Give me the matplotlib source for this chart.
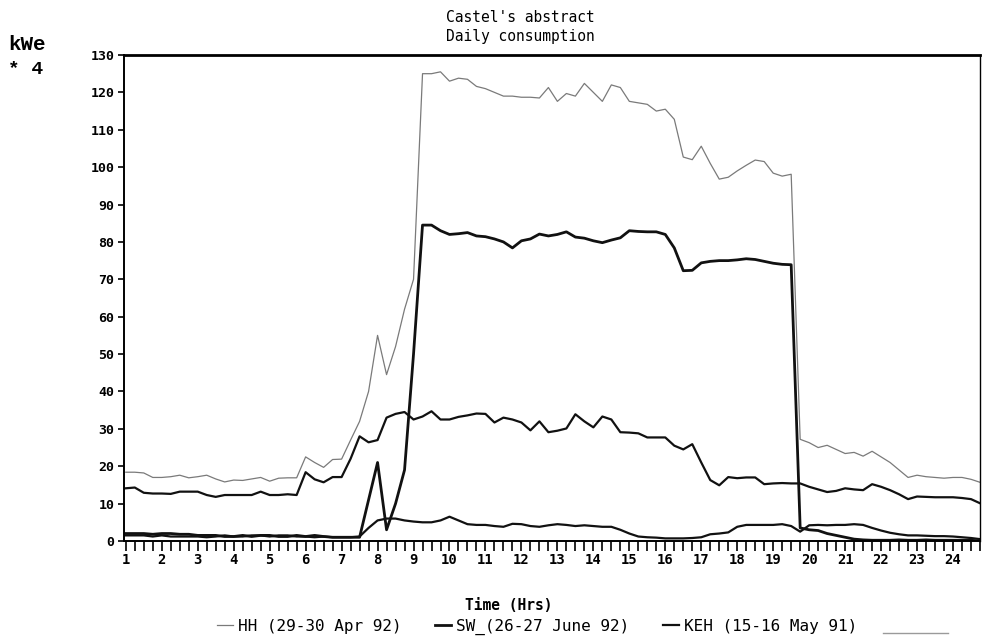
import numpy as np
import matplotlib
matplotlib.use("Agg")
import matplotlib.pyplot as plt
from matplotlib.lines import Line2D

# ---- data (quarter-hour samples, hours 1.00 .. 24.75) ----
hours = np.arange(1.0, 25.0, 0.25)

hh = [18.4, 18.4, 18.2, 17.0,  17.0, 17.2, 17.6, 16.9,  17.2, 17.6, 16.6, 15.8,
      16.3, 16.2, 16.6, 17.0,  16.0, 16.8, 16.9, 16.9,  22.5, 21.0, 19.7, 21.8,
      21.9, 27.0, 32.0, 40.0,  55.0, 44.5, 52.0, 62.0,  70.0, 125.0, 125.0, 125.5,
      123.0, 123.8, 123.5, 121.6,  121.0, 120.0, 119.0, 119.0,  118.7, 118.7, 118.5, 121.3,
      117.6, 119.7, 119.0, 122.4,  120.0, 117.6, 122.0, 121.3,  117.6, 117.2, 116.8, 115.0,
      115.5, 112.8, 102.7, 102.0,  105.6, 101.0, 96.8, 97.3,  99.0, 100.5, 101.9, 101.5,
      98.4, 97.6, 98.1, 27.2,  26.3, 25.0, 25.6, 24.5,  23.4, 23.7, 22.7, 24.0,
      22.5, 21.0, 19.0, 17.0,  17.6, 17.2, 17.0, 16.8,  17.0, 17.0, 16.5, 15.7]

sw = [2.0, 2.0, 2.0, 1.8,  2.0, 2.0, 1.8, 1.8,  1.5, 1.5, 1.5, 1.2,
      1.2, 1.5, 1.2, 1.5,  1.5, 1.2, 1.2, 1.5,  1.2, 1.5, 1.2, 1.0,
      1.0, 1.0, 1.0, 11.0,  21.0, 3.0, 10.0, 19.0,  50.0, 84.5, 84.5, 83.0,
      82.0, 82.2, 82.5, 81.6,  81.4, 80.8, 80.0, 78.4,  80.3, 80.8, 82.1, 81.6,
      82.0, 82.7, 81.3, 81.0,  80.3, 79.8, 80.5, 81.1,  83.0, 82.8, 82.7, 82.7,
      82.0, 78.4, 72.3, 72.4,  74.4, 74.8, 75.0, 75.0,  75.2, 75.5, 75.3, 74.8,
      74.3, 74.0, 73.9, 3.5,  3.0, 2.8, 2.0, 1.5,  1.0, 0.5, 0.3, 0.2,
      0.2, 0.2, 0.3, 0.2,  0.2, 0.3, 0.2, 0.2,  0.2, 0.2, 0.2, 0.0]

keh = [14.1, 14.3, 12.9, 12.7,  12.7, 12.6, 13.2, 13.2,  13.2, 12.3, 11.8, 12.3,
       12.3, 12.3, 12.3, 13.2,  12.3, 12.3, 12.5, 12.3,  18.4, 16.5, 15.7, 17.1,
       17.1, 22.0, 28.0, 26.4,  27.0, 33.0, 34.0, 34.5,  32.5, 33.3, 34.7, 32.5,
       32.5, 33.2, 33.6, 34.1,  34.0, 31.7, 33.0, 32.5,  31.7, 29.6, 32.0, 29.1,
       29.5, 30.1, 33.9, 32.0,  30.4, 33.3, 32.5, 29.1,  29.0, 28.8, 27.7, 27.7,
       27.7, 25.5, 24.5, 25.9,  21.0, 16.3, 14.9, 17.1,  16.8, 17.0, 17.0, 15.2,
       15.4, 15.5, 15.4, 15.4,  14.5, 13.8, 13.1, 13.4,  14.1, 13.8, 13.6, 15.2,
       14.5, 13.6, 12.5, 11.2,  11.9, 11.8, 11.7, 11.7,  11.7, 11.5, 11.2, 10.1]

other = [1.5, 1.5, 1.5, 1.2,  1.5, 1.2, 1.2, 1.2,  1.2, 1.0, 1.2, 1.5,
         1.2, 1.2, 1.5, 1.5,  1.2, 1.5, 1.5, 1.2,  1.2, 1.0, 1.2, 1.0,
         1.0, 1.0, 1.2, 3.5,  5.5, 6.0, 6.0, 5.5,  5.2, 5.0, 5.0, 5.5,
         6.5, 5.5, 4.5, 4.3,  4.3, 4.0, 3.8, 4.6,  4.5, 4.0, 3.8, 4.2,
         4.5, 4.3, 4.0, 4.2,  4.0, 3.8, 3.8, 3.0,  2.0, 1.2, 1.0, 0.9,
         0.7, 0.7, 0.7, 0.8,  1.0, 1.8, 2.0, 2.3,  3.8, 4.3, 4.3, 4.3,
         4.3, 4.5, 4.0, 2.5,  4.2, 4.3, 4.2, 4.3,  4.3, 4.5, 4.3, 3.5,
         2.8, 2.2, 1.8, 1.5,  1.5, 1.4, 1.3, 1.3,  1.2, 1.0, 0.8, 0.5]

labels = ["HH (29-30 Apr 92)", "SW_(26-27 June 92)", "KEH (15-16 May 91)"]
yticks = list(range(0, 131, 10))
xticks = list(range(1, 25))

MONO = "DejaVu Sans Mono"

fig = plt.figure(figsize=(9.84, 6.41), dpi=100)
ax = fig.add_axes([124 / 984, 1 - 541 / 641, (980 - 124) / 984, (541 - 55) / 641])

l1, = ax.plot(hours, hh, color="#7a7a7a", lw=0.9)
l2, = ax.plot(hours, sw, color="#111111", lw=2.0)
l3, = ax.plot(hours, keh, color="#111111", lw=1.6)
ax.plot(hours, other, color="#111111", lw=1.6)

ax.set_xlim(0.95, 24.75)
ax.set_ylim(0, 130)
ax.set_yticks(yticks)
ax.set_xticks(xticks)
ax.set_xticks(hours, minor=True)
ax.tick_params(axis="y", direction="out", length=4, width=1.2, pad=3,
               labelsize=9.5)
ax.tick_params(axis="x", which="both", direction="out", length=7, width=1.2,
               pad=2, labelsize=10)
for lab in ax.get_yticklabels() + ax.get_xticklabels():
    lab.set_family(MONO)
    lab.set_fontweight("bold")

for side in ["left", "bottom", "right"]:
    ax.spines[side].set_linewidth(1.4)
ax.spines["right"].set_linewidth(1.0)
ax.spines["top"].set_linewidth(2.0)

fig.text(520 / 984, 1 - 18 / 641, "Castel's abstract", ha="center", va="center",
         family=MONO, fontsize=10.5)
fig.text(520 / 984, 1 - 37 / 641, "Daily consumption", ha="center", va="center",
         family=MONO, fontsize=10.5)

fig.text(8 / 984, 1 - 44 / 641, "kWe", ha="left", va="center",
         family="Liberation Mono", fontweight="bold", fontsize=15)
fig.text(8 / 984, 1 - 70 / 641, "* 4", ha="left", va="center",
         family="Liberation Mono", fontweight="bold", fontsize=14)

fig.text(509 / 984, 1 - 605 / 641, "Time (Hrs)", ha="center", va="center",
         family=MONO, fontweight="bold", fontsize=10.5)

leg = fig.legend([l1, l2, l3], labels, loc="center left",
                 bbox_to_anchor=(203 / 984, 1 - 627 / 641), ncol=3,
                 frameon=False, handlelength=1.0, handletextpad=0.3,
                 columnspacing=2.1, prop={"family": MONO, "size": 11.5})

fig.add_artist(Line2D([883 / 984, 948 / 984], [1 - 633 / 641, 1 - 633 / 641],
                      color="#9a9a9a", lw=1.0))

fig.savefig("out.png", dpi=100)
